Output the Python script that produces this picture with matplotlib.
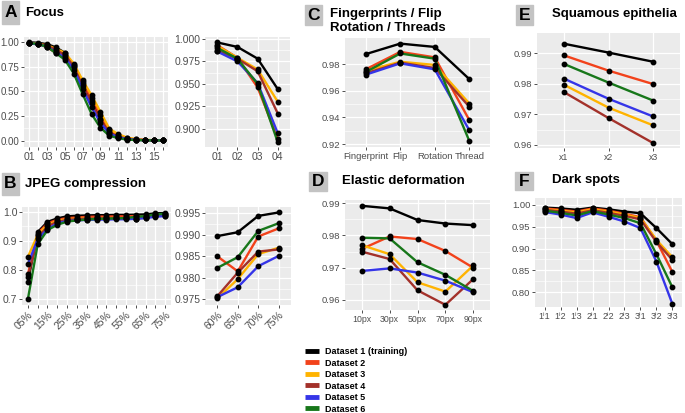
import matplotlib
matplotlib.use("Agg")
import matplotlib.pyplot as plt
import numpy as np
from matplotlib.lines import Line2D
from matplotlib.patches import Rectangle

plt.rcParams['font.family'] = ['Liberation Sans', 'DejaVu Sans']

# ---- data -------------------------------------------------------------
datasets = ['Dataset 1 (training)', 'Dataset 2', 'Dataset 3',
            'Dataset 4', 'Dataset 5', 'Dataset 6']
colors = ['#000000', '#F2421B', '#FFB300', '#A3312A', '#3535E8', '#17771A']

focus_labels = ['%02d' % i for i in range(1, 17)]
focus_vals = [
    [0.996, 0.991, 0.978, 0.944, 0.89, 0.76, 0.57, 0.40, 0.22, 0.09, 0.04, 0.02, 0.01, 0.005, 0.003, 0.002],
    [0.993, 0.979, 0.946, 0.889, 0.86, 0.77, 0.59, 0.43, 0.26, 0.11, 0.055, 0.025, 0.012, 0.006, 0.003, 0.002],
    [0.992, 0.979, 0.966, 0.930, 0.89, 0.78, 0.61, 0.46, 0.29, 0.12, 0.065, 0.03, 0.015, 0.007, 0.004, 0.002],
    [0.987, 0.978, 0.964, 0.917, 0.87, 0.75, 0.55, 0.38, 0.21, 0.08, 0.04, 0.018, 0.009, 0.005, 0.003, 0.001],
    [0.986, 0.975, 0.951, 0.895, 0.84, 0.72, 0.52, 0.34, 0.18, 0.07, 0.035, 0.015, 0.007, 0.004, 0.002, 0.001],
    [0.990, 0.978, 0.950, 0.885, 0.82, 0.68, 0.47, 0.27, 0.13, 0.05, 0.025, 0.01, 0.005, 0.003, 0.002, 0.001],
]

jpeg_labels = ['%02d%%' % q for q in range(5, 80, 5)]
jpeg_vals = [
    [0.760, 0.930, 0.965, 0.977, 0.984, 0.986, 0.987, 0.988, 0.988, 0.989, 0.989, 0.9897, 0.9906, 0.9944, 0.9952],
    [0.785, 0.925, 0.960, 0.972, 0.978, 0.980, 0.982, 0.983, 0.983, 0.984, 0.984, 0.9850, 0.9815, 0.9896, 0.9915],
    [0.845, 0.920, 0.955, 0.968, 0.974, 0.976, 0.977, 0.978, 0.978, 0.978, 0.977, 0.9752, 0.9797, 0.9855, 0.9870],
    [0.775, 0.910, 0.950, 0.965, 0.972, 0.974, 0.976, 0.977, 0.977, 0.977, 0.977, 0.9757, 0.9812, 0.9861, 0.9866],
    [0.820, 0.905, 0.940, 0.960, 0.968, 0.970, 0.972, 0.973, 0.973, 0.974, 0.974, 0.9755, 0.9778, 0.9827, 0.9851],
    [0.700, 0.888, 0.937, 0.955, 0.966, 0.970, 0.973, 0.975, 0.976, 0.977, 0.978, 0.9823, 0.9848, 0.9909, 0.9927],
]

fp_labels = ['Fingerprint', 'Flip', 'Rotation', 'Thread']
fp_vals = [
    [0.9874, 0.9953, 0.9928, 0.9687],
    [0.9760, 0.9891, 0.9850, 0.9380],
    [0.9750, 0.9817, 0.9793, 0.9504],
    [0.9730, 0.9810, 0.9770, 0.9480],
    [0.9720, 0.9805, 0.9760, 0.9304],
    [0.9740, 0.9879, 0.9840, 0.9224],
]

elastic_labels = ['10px', '30px', '50px', '70px', '90px']
elastic_vals = [
    [0.9892, 0.9884, 0.9848, 0.9837, 0.9832],
    [0.9758, 0.9797, 0.9789, 0.9752, 0.9700],
    [0.9770, 0.9742, 0.9655, 0.9626, 0.9707],
    [0.9750, 0.9727, 0.9630, 0.9585, 0.9665],
    [0.9690, 0.9698, 0.9685, 0.9660, 0.9624],
    [0.9793, 0.9791, 0.9717, 0.9678, 0.9628],
]

squam_labels = ['x1', 'x2', 'x3']
squam_vals = [
    [0.9931, 0.9902, 0.9872],
    [0.9893, 0.9843, 0.9799],
    [0.9797, 0.9722, 0.9664],
    [0.9773, 0.9688, 0.9606],
    [0.9817, 0.9751, 0.9693],
    [0.9865, 0.9804, 0.9745],
]

dark_labels = ['1\u20711', '1\u20712', '1\u20713', '2\u20711', '2\u20712',
               '2\u20713', '3\u20711', '3\u20712', '3\u20713']
dark_vals = [
    [0.994, 0.992, 0.989, 0.994, 0.990, 0.985, 0.981, 0.947, 0.910],
    [0.992, 0.989, 0.985, 0.992, 0.987, 0.980, 0.972, 0.918, 0.846],
    [0.990, 0.987, 0.983, 0.990, 0.985, 0.978, 0.970, 0.920, 0.880],
    [0.989, 0.985, 0.980, 0.988, 0.982, 0.975, 0.967, 0.915, 0.874],
    [0.984, 0.978, 0.970, 0.983, 0.973, 0.962, 0.947, 0.870, 0.773],
    [0.987, 0.982, 0.976, 0.986, 0.978, 0.970, 0.958, 0.887, 0.811],
]

# ---- layout helpers ---------------------------------------------------
W, H = 685, 413
fig = plt.figure(figsize=(W / 100, H / 100), dpi=100)


def add_ax(x0, y0, x1, y1):
    return fig.add_axes([x0 / W, 1 - y1 / H, (x1 - x0) / W, (y1 - y0) / H])


def panel(ax, labels, vals, ylim, yticks, yfmt, xfs=7.5, yfs=7.5, show_every=1, rot=0):
    n = len(labels)
    x = np.arange(n)
    ax.set_facecolor('#EBEBEB')
    for s in ax.spines.values():
        s.set_visible(False)
    for v, c in zip(vals, colors):
        ax.plot(x, v, color=c, lw=1.7, zorder=3, solid_capstyle='butt')
    for v in vals:
        ax.plot(x, v, 'o', color='black', ms=3.2, zorder=4)
    ax.set_xlim(-0.6, n - 0.4)
    ax.set_ylim(*ylim)
    ax.set_xticks(x)
    shown = [lab if i % show_every == 0 else '' for i, lab in enumerate(labels)]
    ax.set_xticklabels(shown, fontsize=xfs, color='#4D4D4D', rotation=rot,
                       ha='right' if rot else 'center',
                       rotation_mode='anchor' if rot else 'default')
    ax.set_yticks(yticks)
    ax.set_yticklabels([yfmt % t for t in yticks], fontsize=yfs, color='#4D4D4D')
    minor = [(a + b) / 2 for a, b in zip(yticks[:-1], yticks[1:])]
    ax.set_yticks(minor, minor=True)
    ax.tick_params(which='major', length=2.2, width=0.6, color='#333333', pad=1.2)
    ax.tick_params(which='minor', length=0)
    ax.grid(True, which='major', color='white', lw=0.9, zorder=0)
    ax.grid(True, which='minor', axis='y', color='white', lw=0.45, zorder=0)
    ax.set_axisbelow(True)


def tag(x0, y0, x1, y1, letter, title, tx, ty):
    fig.patches.append(Rectangle((x0 / W, 1 - y1 / H), (x1 - x0) / W, (y1 - y0) / H,
                                 transform=fig.transFigure, color='#C3C3C3', zorder=0))
    fig.text((x0 + x1) / 2 / W, 1 - (y0 + y1) / 2 / H, letter, fontsize=12.5,
             fontweight='bold', ha='center', va='center')
    fig.text(tx / W, 1 - ty / H, title, fontsize=9.5, fontweight='bold',
             ha='left', va='center', linespacing=1.15)


# ---- A: focus ---------------------------------------------------------
ax = add_ax(24, 37, 168, 147)
panel(ax, focus_labels, focus_vals, (-0.065, 1.05), [0, 0.25, 0.5, 0.75, 1.0], '%.2f',
      yfs=7, show_every=2)
ax = add_ax(205, 37, 290, 147)
panel(ax, focus_labels[:4], [v[:4] for v in focus_vals], (0.880, 1.002),
      [0.9, 0.925, 0.95, 0.975, 1.0], '%.3f')
tag(2, 1, 19, 24, 'A', 'Focus', 25, 13)

# ---- B: jpeg ----------------------------------------------------------
ax = add_ax(22, 207, 171, 305)
panel(ax, jpeg_labels, jpeg_vals, (0.68, 1.016), [0.7, 0.8, 0.9, 1.0], '%.1f',
      show_every=2, rot=45)
ax = add_ax(205, 207, 291, 305)
panel(ax, jpeg_labels[-4:], [v[-4:] for v in jpeg_vals], (0.97367, 0.99647),
      [0.975, 0.98, 0.985, 0.99, 0.995], '%.3f', rot=45)
tag(2, 173, 19, 195, 'B', 'JPEG compression', 25, 184)

# ---- C: fingerprints / flip / rotation / threads ----------------------
ax = add_ax(345, 38, 490, 147)
panel(ax, fp_labels, fp_vals, (0.9178, 0.9995), [0.92, 0.94, 0.96, 0.98], '%.2f',
      xfs=6.8, yfs=6.8)
tag(305, 5, 322, 25, 'C', 'Fingerprints / Flip\nRotation / Threads', 330, 21)

# ---- D: elastic deformation -------------------------------------------
ax = add_ax(345, 200, 490, 310)
panel(ax, elastic_labels, elastic_vals, (0.9569, 0.9910), [0.96, 0.97, 0.98, 0.99], '%.2f',
      xfs=6.3, yfs=6.8)
tag(309, 172, 327, 191, 'D', 'Elastic deformation', 342, 181)

# ---- E: squamous epithelia --------------------------------------------
ax = add_ax(537, 33, 680, 148)
panel(ax, squam_labels, squam_vals, (0.9590, 0.9966), [0.96, 0.97, 0.98, 0.99], '%.2f',
      xfs=6.3, yfs=6.8)
tag(516, 5, 533, 25, 'E', 'Squamous epithelia', 552, 14)

# ---- F: dark spots ----------------------------------------------------
ax = add_ax(535, 198, 682, 307)
panel(ax, dark_labels, dark_vals, (0.766, 1.016), [0.8, 0.85, 0.9, 0.95, 1.0], '%.2f',
      xfs=6.5, yfs=6.8)
tag(515, 172, 533, 190, 'F', 'Dark spots', 552, 180)

# ---- legend -----------------------------------------------------------
handles = [Line2D([0], [0], color=c, lw=3.5, solid_capstyle='butt') for c in colors]
fig.legend(handles, datasets, loc='upper left', bbox_to_anchor=(305 / W, 1 - 347 / H),
           frameon=False, prop={'weight': 'bold', 'size': 6.5},
           handlelength=1.5, handletextpad=0.7, labelspacing=0.28, borderpad=0,
           borderaxespad=0)

fig.savefig('out.png', dpi=100)
